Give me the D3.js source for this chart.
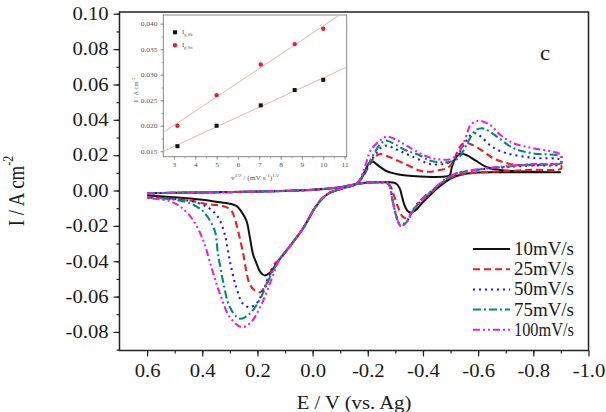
<!DOCTYPE html>
<html>
<head>
<meta charset="utf-8">
<script src="https://cdn.jsdelivr.net/npm/d3@7"></script>
<style>
body { margin: 0; background: #fff; }
svg text { font-family: "Times New Roman", Times, "Liberation Serif", serif !important; }
</style>
</head>
<body>
<div id="chart"></div>
<script>
// scan rates and legend labels
var scanRates = ["10mV/s", "25mV/s", "50mV/s", "75mV/s", "100mV/s"];

// main axes ticks
var xTicks = [0.6, 0.4, 0.2, 0.0, -0.2, -0.4, -0.6, -0.8, -1.0];
var yTicks = [-0.08, -0.06, -0.04, -0.02, 0.00, 0.02, 0.04, 0.06, 0.08, 0.10];

// shared parts of the voltammograms, [E, I]
var forwardFlat = [[0.6, -0.0015], [0.5, -0.0013], [0.4, -0.0011], [0.3, -0.0009], [0.2, -0.0006], [0.1, -0.0002],
    [0.0, 0.0004], [-0.05, 0.001], [-0.1, 0.0019], [-0.146, 0.0033], [-0.2, 0.0045], [-0.25, 0.0047]];
var sharedRise = [[-0.146, 0.0028], [-0.12, 0.0018], [-0.09, 0.0003], [-0.063, -0.0012], [-0.035, -0.0045],
    [-0.01, -0.0094], [0.035, -0.0215], [0.08, -0.031], [0.12, -0.039]];

// 10 mV/s
var blackDip = [[-0.27, 0.0047], [-0.3, 0.0042], [-0.315, 0.0015], [-0.325, -0.004], [-0.336, -0.0095], [-0.35, -0.0123],
    [-0.37, -0.0115], [-0.4, -0.0065], [-0.414, -0.0044], [-0.45, 0.001], [-0.5, 0.0068], [-0.55, 0.0093], [-0.6, 0.0102],
    [-0.7, 0.0103], [-0.9, 0.0103]];
var blackReturn = [[-0.9, 0.0103], [-0.8, 0.0106], [-0.7, 0.0113], [-0.632, 0.0132], [-0.59, 0.017], [-0.56, 0.0199],
    [-0.535, 0.0209], [-0.517, 0.018], [-0.505, 0.0134], [-0.497, 0.0087], [-0.48, 0.0079], [-0.43, 0.0077], [-0.39, 0.0079],
    [-0.34, 0.0085], [-0.3, 0.0095], [-0.265, 0.0112], [-0.235, 0.0145], [-0.219, 0.0163], [-0.203, 0.0152], [-0.188, 0.0105],
    [-0.175, 0.0065], [-0.16, 0.0038]];
var blackTrough = [[0.155, -0.0465], [0.174, -0.048], [0.19, -0.046], [0.204, -0.041], [0.216, -0.036], [0.228, -0.026],
    [0.24, -0.017], [0.26, -0.0115], [0.275, -0.0088], [0.3, -0.0075], [0.35, -0.0063], [0.4, -0.0052], [0.5, -0.0038], [0.6, -0.0028]];

// 25 mV/s
var redDip = [[-0.26, 0.0047], [-0.28, 0.003], [-0.295, -0.003], [-0.31, -0.0095], [-0.325, -0.0145], [-0.34, -0.0157],
    [-0.355, -0.0135], [-0.375, -0.009], [-0.4, -0.005], [-0.43, -0.0012], [-0.47, 0.0045], [-0.52, 0.0085], [-0.6, 0.0102],
    [-0.7, 0.011], [-0.8, 0.0117], [-0.9, 0.0123]];
var redReturn = [[-0.9, 0.0144], [-0.8, 0.0144], [-0.729, 0.0146], [-0.656, 0.0182], [-0.602, 0.0239], [-0.575, 0.026],
    [-0.554, 0.027], [-0.54, 0.026], [-0.525, 0.022], [-0.51, 0.0165], [-0.49, 0.0128], [-0.45, 0.0113], [-0.425, 0.0106],
    [-0.39, 0.0112], [-0.33, 0.0154], [-0.28, 0.0188], [-0.245, 0.0207], [-0.225, 0.019], [-0.205, 0.014], [-0.185, 0.0085],
    [-0.165, 0.0045]];
var redTrough = [[0.137, -0.0414], [0.167, -0.0527], [0.19, -0.0575], [0.21, -0.0565], [0.228, -0.053], [0.24, -0.046],
    [0.25, -0.037], [0.264, -0.027], [0.28, -0.017], [0.294, -0.0115], [0.313, -0.0094], [0.35, -0.0082], [0.38, -0.0078],
    [0.45, -0.0055], [0.52, -0.0045], [0.6, -0.0035]];

// 50 mV/s
var blueDip = [[-0.265, 0.0047], [-0.278, 0.003], [-0.29, -0.0055], [-0.303, -0.014], [-0.314, -0.0188], [-0.328, -0.019],
    [-0.345, -0.0165], [-0.363, -0.0113], [-0.385, -0.0065], [-0.405, -0.0035], [-0.43, -0.0005], [-0.47, 0.0048],
    [-0.52, 0.0095], [-0.6, 0.0118], [-0.7, 0.0132], [-0.8, 0.0142], [-0.9, 0.015]];
var blueReturn = [[-0.9, 0.0173], [-0.8, 0.0185], [-0.705, 0.021], [-0.65, 0.0248], [-0.61, 0.0305], [-0.59, 0.0324],
    [-0.57, 0.031], [-0.55, 0.0265], [-0.53, 0.021], [-0.51, 0.0168], [-0.48, 0.0152], [-0.425, 0.015], [-0.38, 0.018],
    [-0.34, 0.0207], [-0.3, 0.0235], [-0.27, 0.0254], [-0.25, 0.0245], [-0.225, 0.02], [-0.2, 0.0135], [-0.18, 0.0075],
    [-0.16, 0.004]];
var blueTrough = [[0.15, -0.045], [0.174, -0.0546], [0.204, -0.064], [0.228, -0.066], [0.253, -0.064], [0.277, -0.0546],
    [0.3, -0.04], [0.319, -0.0245], [0.343, -0.015], [0.375, -0.01], [0.434, -0.0062], [0.5, -0.0048], [0.6, -0.0038]];

// 75 mV/s
var tealDip = [[-0.265, 0.0047], [-0.278, 0.003], [-0.29, -0.0058], [-0.303, -0.0145], [-0.315, -0.0193], [-0.33, -0.0195],
    [-0.347, -0.0165], [-0.365, -0.0112], [-0.387, -0.0065], [-0.405, -0.0035], [-0.43, -0.0005], [-0.47, 0.0048],
    [-0.52, 0.0095], [-0.6, 0.0118], [-0.7, 0.0135], [-0.8, 0.0148], [-0.9, 0.0155]];
var tealReturn = [[-0.9, 0.0191], [-0.8, 0.021], [-0.729, 0.0239], [-0.669, 0.0304], [-0.635, 0.034], [-0.614, 0.0352],
    [-0.59, 0.034], [-0.57, 0.0295], [-0.55, 0.0235], [-0.53, 0.0185], [-0.5, 0.0163], [-0.46, 0.016], [-0.425, 0.017],
    [-0.38, 0.0205], [-0.34, 0.0226], [-0.3, 0.026], [-0.27, 0.0282], [-0.25, 0.027], [-0.225, 0.0215], [-0.2, 0.014],
    [-0.18, 0.0075], [-0.16, 0.004]];
var tealTrough = [[0.155, -0.049], [0.19, -0.0612], [0.228, -0.0697], [0.264, -0.0725], [0.3, -0.066], [0.325, -0.051],
    [0.343, -0.0358], [0.355, -0.0226], [0.39, -0.013], [0.417, -0.0094], [0.47, -0.006], [0.6, -0.004]];

// 100 mV/s
var magentaDip = [[-0.265, 0.0047], [-0.278, 0.003], [-0.29, -0.006], [-0.304, -0.015], [-0.317, -0.0198], [-0.322, -0.0203],
    [-0.34, -0.018], [-0.363, -0.0115], [-0.387, -0.0068], [-0.405, -0.0038], [-0.43, -0.0005], [-0.47, 0.005],
    [-0.52, 0.0097], [-0.6, 0.012], [-0.7, 0.0138], [-0.8, 0.015], [-0.9, 0.016]];
var magentaReturn = [[-0.9, 0.0201], [-0.8, 0.0239], [-0.729, 0.0267], [-0.681, 0.0314], [-0.644, 0.037], [-0.602, 0.0395],
    [-0.572, 0.037], [-0.56, 0.0324], [-0.542, 0.0248], [-0.523, 0.0201], [-0.499, 0.0177], [-0.45, 0.0178], [-0.41, 0.0195],
    [-0.34, 0.0254], [-0.3, 0.029], [-0.27, 0.0305], [-0.25, 0.029], [-0.21, 0.0226], [-0.193, 0.015], [-0.175, 0.0075],
    [-0.16, 0.004]];
var magentaTrough = [[0.155, -0.0527], [0.19, -0.066], [0.228, -0.0753], [0.258, -0.0772], [0.3, -0.0716], [0.337, -0.058],
    [0.367, -0.0433], [0.397, -0.028], [0.434, -0.0165], [0.477, -0.0094], [0.518, -0.006], [0.6, -0.0042]];

// inset: peak current vs square root of scan rate
var sqrtRate = [3.162, 5.0, 7.071, 8.660, 10.0];
var ipSb = [0.016, 0.020, 0.024, 0.027, 0.029];
var ipSn = [0.020, 0.026, 0.032, 0.036, 0.039];
var fitSb = [[2.5, 0.0150], [11.1, 0.0315]];
var fitSn = [[2.5, 0.0187], [10.77, 0.0417]];
var insetXTicks = [3, 4, 5, 6, 7, 8, 9, 10, 11];
var insetYTicks = [0.015, 0.020, 0.025, 0.030, 0.035, 0.040];

var curves = [
    forwardFlat.concat(blackDip, blackReturn, sharedRise, blackTrough),
    forwardFlat.concat(redDip, redReturn, sharedRise, redTrough),
    forwardFlat.concat(blueDip, blueReturn, sharedRise, blueTrough),
    forwardFlat.concat(tealDip, tealReturn, sharedRise, tealTrough),
    forwardFlat.concat(magentaDip, magentaReturn, sharedRise, magentaTrough)
];
var colors = ["#111111", "#ec1c24", "#1a1ae6", "#00897e", "#e620e6"];
var dashes = ["none", "7,4", "2,4", "8,3,2,3", "7,3,2,3,2,3"];

const width = 606, height = 412;
const serif = '"Times New Roman", Times, "Liberation Serif", serif';
const svg = d3.select("#chart").append("svg")
    .attr("width", width)
    .attr("height", height)
    .style("font-family", serif);

const x = d3.scaleLinear().domain([0.7, -1.0]).range([119.5, 588.5]);
const y = d3.scaleLinear().domain([-0.0905, 0.101]).range([350.5, 12]);
const stretch = "scale(1.15,1)";

// minor ticks first, then major
svg.append("g")
    .attr("transform", "translate(0,350.5)")
    .call(d3.axisBottom(x).tickValues(d3.range(-9, 7).map(d => d / 10)).tickSize(3).tickSizeOuter(0).tickFormat(""))
    .call(g => g.select(".domain").remove());
svg.append("g")
    .attr("transform", "translate(119.5,0)")
    .call(d3.axisLeft(y).tickValues(d3.range(-9, 11).map(d => d / 100)).tickSize(3).tickSizeOuter(0).tickFormat(""))
    .call(g => g.select(".domain").remove());

const xAxis = svg.append("g")
    .attr("transform", "translate(0,350.5)")
    .call(d3.axisBottom(x).tickValues(xTicks).tickSize(6).tickPadding(7.5).tickSizeOuter(0).tickFormat(d => d.toFixed(1)));
const yAxis = svg.append("g")
    .attr("transform", "translate(119.5,0)")
    .call(d3.axisLeft(y).tickValues(yTicks).tickSize(6).tickPadding(3.5).tickSizeOuter(0).tickFormat(d => d.toFixed(2)));

[xAxis, yAxis].forEach(a => {
    a.attr("font-family", null);
    a.select(".domain").remove();
    a.selectAll("text").attr("font-size", 18).attr("fill", "#1a1a1a").attr("transform", stretch);
});
svg.selectAll(".tick line").attr("stroke", "#222").attr("stroke-width", 1.2);

// frame
svg.append("rect")
    .attr("x", x(0.7)).attr("y", y(0.101))
    .attr("width", x(-1.0) - x(0.7)).attr("height", y(-0.0905) - y(0.101))
    .attr("fill", "none").attr("stroke", "#222").attr("stroke-width", 1.5);

// axis titles
svg.append("text")
    .attr("transform", "translate(354,409) " + stretch)
    .attr("text-anchor", "middle").attr("font-size", 18).attr("fill", "#1a1a1a")
    .text("E / V (vs. Ag)");
const yTitle = svg.append("text")
    .attr("transform", "translate(23.5,191) scale(1.2,1) rotate(-90)")
    .attr("text-anchor", "middle").attr("font-size", 19).attr("fill", "#1a1a1a");
yTitle.append("tspan").text("I / A cm");
yTitle.append("tspan").attr("font-size", 12).attr("dy", -9).text("-2");

// voltammograms
const line = d3.line()
    .x(d => x(d[0]))
    .y(d => y(d[1]))
    .curve(d3.curveCatmullRom.alpha(0.5));

svg.append("g").selectAll("path")
    .data(curves)
    .enter().append("path")
        .attr("d", line)
        .attr("fill", "none")
        .attr("stroke", (d, i) => colors[i])
        .attr("stroke-width", (d, i) => i === 0 ? 2 : 2.1)
        .attr("stroke-dasharray", (d, i) => dashes[i]);

// legend
const legend = svg.append("g");
scanRates.forEach(function(r, i) {
    const ly = 249 + i * 20.2;
    legend.append("line")
        .attr("x1", 473).attr("x2", 510).attr("y1", ly).attr("y2", ly)
        .attr("stroke", colors[i]).attr("stroke-width", 2)
        .attr("stroke-dasharray", dashes[i]);
    legend.append("text")
        .attr("x", 514).attr("y", ly + 6)
        .attr("textLength", 60).attr("lengthAdjust", "spacingAndGlyphs")
        .attr("font-size", 18).attr("fill", "#1a1a1a")
        .text(r);
});

svg.append("text")
    .attr("transform", "translate(545,60) " + stretch)
    .attr("text-anchor", "middle").attr("font-size", 20).attr("fill", "#1a1a1a")
    .text("c");

// inset
const ix = d3.scaleLinear().domain([2.5, 11.1]).range([163.3, 346.7]);
const iy = d3.scaleLinear().domain([0.01394, 0.0417]).range([156.7, 15]);
const inset = svg.append("g");

inset.append("rect")
    .attr("x", 163.3).attr("y", 15).attr("width", 183.4).attr("height", 141.7)
    .attr("fill", "#fff").attr("stroke", "#888").attr("stroke-width", 1);

inset.append("g")
    .attr("transform", "translate(0,156.7)")
    .call(d3.axisBottom(ix).tickValues(d3.range(3, 11.01, 0.5)).tickSize(1.5).tickSizeOuter(0).tickFormat(""))
    .call(g => g.select(".domain").remove());
inset.append("g")
    .attr("transform", "translate(163.3,0)")
    .call(d3.axisLeft(iy).tickValues(d3.range(0.015, 0.0412, 0.0025)).tickSize(1.5).tickSizeOuter(0).tickFormat(""))
    .call(g => g.select(".domain").remove());
const ixAxis = inset.append("g")
    .attr("transform", "translate(0,156.7)")
    .call(d3.axisBottom(ix).tickValues(insetXTicks).tickSize(3).tickPadding(2.5).tickSizeOuter(0));
const iyAxis = inset.append("g")
    .attr("transform", "translate(163.3,0)")
    .call(d3.axisLeft(iy).tickValues(insetYTicks).tickSize(3).tickPadding(2).tickSizeOuter(0).tickFormat(d => d.toFixed(3)));
[ixAxis, iyAxis].forEach(a => {
    a.attr("font-family", null);
    a.select(".domain").remove();
    a.selectAll("text").attr("font-size", 6.5).attr("fill", "#555").attr("transform", stretch);
});
inset.selectAll(".tick line").attr("stroke", "#888").attr("stroke-width", 0.8);

const fitLine = d3.line().x(d => ix(d[0])).y(d => iy(d[1]));
[fitSb, fitSn].forEach(f => {
    inset.append("path").attr("d", fitLine(f))
        .attr("fill", "none").attr("stroke", "#eaa8a8").attr("stroke-width", 0.9);
});

inset.selectAll(".sb").data(sqrtRate).enter().append("rect")
    .attr("x", (d) => ix(d) - 2).attr("y", (d, i) => iy(ipSb[i]) - 2)
    .attr("width", 4).attr("height", 4).attr("fill", "#111");
inset.selectAll(".sn").data(sqrtRate).enter().append("circle")
    .attr("cx", (d) => ix(d)).attr("cy", (d, i) => iy(ipSn[i]))
    .attr("r", 2.2).attr("fill", "#e02230");

// inset legend
inset.append("rect").attr("x", 173).attr("y", 30.3).attr("width", 4).attr("height", 4).attr("fill", "#111");
inset.append("circle").attr("cx", 175).attr("cy", 45.3).attr("r", 2.2).attr("fill", "#e02230");
[["p,Sb", 34], ["p,Sn", 47]].forEach(function(l) {
    const t = inset.append("text").attr("x", 182).attr("y", l[1]).attr("font-size", 7).attr("fill", "#555");
    t.append("tspan").text("I");
    t.append("tspan").attr("font-size", 4.5).attr("dy", 2).text(l[0]);
});

// inset titles
const ixTitle = inset.append("text")
    .attr("transform", "translate(255,180) " + stretch)
    .attr("text-anchor", "middle").attr("font-size", 6.5).attr("fill", "#555");
ixTitle.append("tspan").text("v");
ixTitle.append("tspan").attr("font-size", 4.5).attr("dy", -3).text("1/2");
ixTitle.append("tspan").attr("dy", 3).text(" / (mV s");
ixTitle.append("tspan").attr("font-size", 4.5).attr("dy", -3).text("-1");
ixTitle.append("tspan").attr("dy", 3).text(")");
ixTitle.append("tspan").attr("font-size", 4.5).attr("dy", -3).text("1/2");

const iyTitle = inset.append("text")
    .attr("transform", "translate(138,90) rotate(-90)")
    .attr("text-anchor", "middle").attr("font-size", 6.5).attr("fill", "#555");
iyTitle.append("tspan").text("I / A cm");
iyTitle.append("tspan").attr("font-size", 4.5).attr("dy", -3).text("-2");
</script>
</body>
</html>
